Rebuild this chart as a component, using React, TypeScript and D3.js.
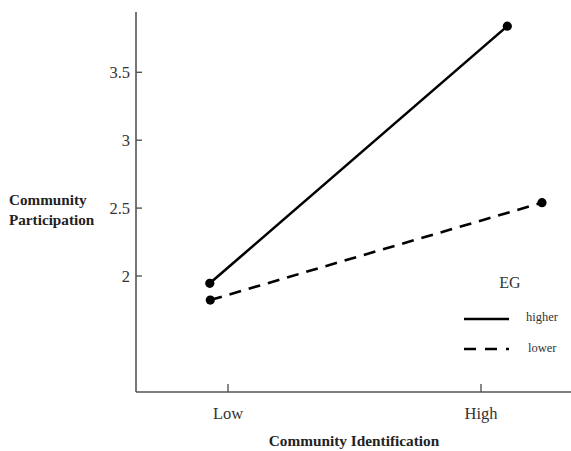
import React from "react";
import * as d3 from "d3";

const categories = ["Low", "High"];
const yTicks = [2, 2.5, 3, 3.5];
const seriesNames = ["higher", "lower"];
const higherValues = [1.946, 3.84];
const lowerValues = [1.823, 2.54];
// x positions (category index, jittered as drawn in the reference)
const higherX = [-0.072, 1.104];
const lowerX = [-0.07, 1.241];

const W = 571;
const H = 451;
const FONT = "'Liberation Serif', 'Times New Roman', serif";

export default function App() {
  const x = d3.scaleLinear().domain([0, 1]).range([228, 481]);
  const y = d3.scaleLinear().domain([2, 3.5]).range([276, 72.3]);
  const axisLeft = 136;
  const axisBottom = 392;
  const axisTop = 12;

  const line = d3
    .line<[number, number]>()
    .x((d) => x(d[0]))
    .y((d) => y(d[1]));

  const series = [
    { name: seriesNames[0], xs: higherX, vs: higherValues, dash: undefined },
    { name: seriesNames[1], xs: lowerX, vs: lowerValues, dash: "12,8" },
  ];

  return (
    <svg
      width={W}
      height={H}
      style={{ position: "absolute", left: 0, top: 0, background: "#fff" }}
      fontFamily={FONT}
    >
      {/* axes */}
      <line x1={axisLeft} y1={axisTop} x2={axisLeft} y2={axisBottom} stroke="#555" strokeWidth={1.6} />
      <line x1={axisLeft} y1={axisBottom} x2={W} y2={axisBottom} stroke="#555" strokeWidth={1.6} />
      {yTicks.map((t) => (
        <g key={t}>
          <line x1={axisLeft} x2={axisLeft + 6} y1={y(t)} y2={y(t)} stroke="#555" strokeWidth={1.4} />
          <text x={130} y={y(t)} dy="0.35em" textAnchor="end" fontSize={16.5} fill="#333">
            {String(t)}
          </text>
        </g>
      ))}
      {categories.map((c, i) => (
        <g key={c}>
          <line x1={x(i)} x2={x(i)} y1={axisBottom} y2={axisBottom - 8} stroke="#555" strokeWidth={1.4} />
          <text x={x(i)} y={413} dy="0.35em" textAnchor="middle" fontSize={16.5} fill="#333">
            {c}
          </text>
        </g>
      ))}
      <text x={354} y={441} dy="0.35em" textAnchor="middle" fontSize={15.3} fontWeight="bold" fill="#222">
        Community Identification
      </text>
      <text x={9} y={200} dy="0.35em" fontSize={15.2} fontWeight="bold" fill="#222">
        Community
      </text>
      <text x={9} y={220} dy="0.35em" fontSize={15.2} fontWeight="bold" fill="#222">
        Participation
      </text>

      {/* series */}
      {series.map((s) => {
        const pts = s.xs.map((xx, i) => [xx, s.vs[i]] as [number, number]);
        return (
          <g key={s.name}>
            <path d={line(pts) || ""} fill="none" stroke="#000" strokeWidth={2.6} strokeDasharray={s.dash} />
            {pts.map((p, i) => (
              <circle key={i} cx={x(p[0])} cy={y(p[1])} r={4.6} fill="#000" />
            ))}
          </g>
        );
      })}

      {/* legend */}
      <text x={510} y={282} dy="0.35em" textAnchor="middle" fontSize={16} fill="#333">
        EG
      </text>
      {series.map((s, i) => (
        <g key={s.name}>
          <line
            x1={464}
            x2={509}
            y1={319 + i * 30}
            y2={319 + i * 30}
            stroke="#000"
            strokeWidth={2.6}
            strokeDasharray={s.dash ? "12,9" : undefined}
          />
          <text x={526 + i * 2} y={317 + i * 31} dy="0.35em" fontSize={12.5} fill="#333">
            {s.name}
          </text>
        </g>
      ))}
    </svg>
  );
}
